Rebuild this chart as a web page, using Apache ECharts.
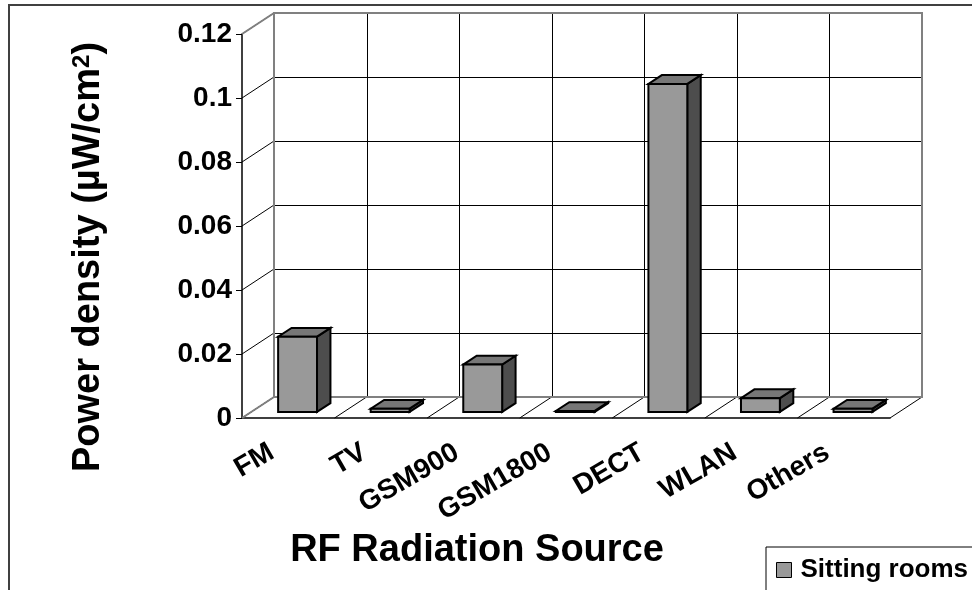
<!DOCTYPE html>
<html><head><meta charset="utf-8">
<script src="https://cdn.jsdelivr.net/npm/echarts@6/dist/echarts.min.js"></script>
<style>html,body{margin:0;padding:0;background:#fff}#c{width:972px;height:590px}</style>
</head><body><div id="c"></div>
<script>
const categories = ['FM', 'TV', 'GSM900', 'GSM1800', 'DECT', 'WLAN', 'Others'];
const sittingRooms = [0.0235, 0.001, 0.0148, 0.0003, 0.1025, 0.0043, 0.001];
const yTicks = [0, 0.02, 0.04, 0.06, 0.08, 0.1, 0.12];
const seriesName = 'Sitting rooms';
const xTitle = 'RF Radiation Source';
const yTitleMain = 'Power density (µW/cm';
const yTitleSup = '2';

const FONT = '"Liberation Sans", Arial, sans-serif';
const DX = 32, DY = -21;      // depth of the 3D box (pixels)
const F0 = 0.29, FD = 0.42;   // bar depth start / bar depth fraction
const BARW = 0.42;            // bar width fraction of band
const cr = v => Math.round(v) + 0.5;

function renderWalls(params, api) {
  const cs = params.coordSys;
  const n = categories.length;
  const x0 = cs.x, x1 = cs.x + cs.width, yB = cs.y + cs.height, yT = cs.y;
  const bw = cs.width / n;
  const ch = [];
  const line = (a, b, c, d, color, w) => ch.push({
    type: 'line', shape: { x1: a, y1: b, x2: c, y2: d },
    style: { stroke: color, lineWidth: w }
  });
  yTicks.forEach(v => {
    const y = api.coord([0, v])[1];
    line(x0 + DX, cr(y + DY), x1 + DX, cr(y + DY), '#000', 1);
    line(x0, y, x0 + DX, y + DY, '#000', 1);
  });
  for (let i = 0; i <= n; i++) {
    const x = x0 + i * bw;
    line(cr(x + DX), yT + DY, cr(x + DX), yB + DY, '#000', 1);
    line(x, yB, x + DX, yB + DY, '#000', 1);
  }
  ch.push({ type: 'rect', shape: { x: x0 + DX, y: yT + DY, width: cs.width, height: cs.height },
    style: { fill: null, stroke: '#808080', lineWidth: 2 } });
  line(x0, yT, x0 + DX, yT + DY, '#808080', 2);
  line(x0, yB, x0 + DX, yB + DY, '#808080', 2);
  return { type: 'group', children: ch };
}

function renderBar(params, api) {
  const idx = api.value(0);
  const base = api.coord([idx, 0]);
  const top = api.coord([idx, api.value(1)]);
  const bw = api.size([1, 0])[0];
  const w = bw * BARW;
  const ox = DX * F0, oy = DY * F0, dx = DX * FD, dy = DY * FD;
  const xl = base[0] - w / 2 + ox, xr = xl + w;
  const yb = base[1] + oy, yt = top[1] + oy;
  const st = { stroke: '#000', lineWidth: 2, lineJoin: 'miter' };
  return {
    type: 'group',
    children: [
      { type: 'polygon', shape: { points: [[xr, yt], [xr + dx, yt + dy], [xr + dx, yb + dy], [xr, yb]] },
        style: Object.assign({ fill: '#4d4d4d' }, st) },
      { type: 'polygon', shape: { points: [[xl, yt], [xr, yt], [xr + dx, yt + dy], [xl + dx, yt + dy]] },
        style: Object.assign({ fill: '#777777' }, st) },
      { type: 'rect', shape: { x: xl, y: yt, width: w, height: yb - yt },
        style: Object.assign({ fill: '#999999' }, st) }
    ]
  };
}

const chart = echarts.init(document.getElementById('c'), null, { renderer: 'canvas' });
chart.setOption({
  animation: false,
  backgroundColor: '#fff',
  grid: { left: 242, right: 82, top: 34, bottom: 172 },
  xAxis: {
    type: 'category', data: categories,
    axisLine: { lineStyle: { color: '#000', width: 1.5 } },
    axisTick: { length: 6, lineStyle: { color: '#000' } },
    axisLabel: { interval: 0, rotate: 30, margin: 23, padding: [0, 19, 0, 0],
      fontSize: 28, fontWeight: 'bold', color: '#000', fontFamily: FONT },
    splitLine: { show: false }
  },
  yAxis: {
    type: 'value', min: 0, max: 0.12, interval: 0.02,
    axisLine: { show: true, lineStyle: { color: '#000', width: 1.5 } },
    axisTick: { show: true, length: 6, lineStyle: { color: '#000' } },
    axisLabel: { margin: 10, fontSize: 28, fontWeight: 'bold', color: '#000', fontFamily: FONT,
      formatter: v => String(parseFloat(v.toFixed(4))) },
    splitLine: { show: false }
  },
  legend: {
    left: 766, top: 547,
    padding: [10, 40, 10, 10],
    borderColor: '#000', borderWidth: 1, backgroundColor: '#fff',
    itemWidth: 15, itemHeight: 15,
    textStyle: { fontSize: 26, fontWeight: 'bold', color: '#000', fontFamily: FONT, padding: [0, 0, 0, 4] },
    data: [{ name: seriesName, icon: 'rect', itemStyle: { color: '#999999', borderColor: '#000', borderWidth: 1 } }]
  },
  graphic: [
    { type: 'rect', shape: { x: 9, y: 5, width: 1000, height: 1000 },
      style: { fill: null, stroke: '#404040', lineWidth: 2 }, z: 100 },
    { type: 'text', x: 477, y: 551,
      style: { text: xTitle, font: 'bold 38px ' + FONT, fill: '#000', textAlign: 'center', textVerticalAlign: 'middle' } },
    { type: 'text', x: 89, y: 257, rotation: Math.PI / 2,
      style: {
        text: '{a|' + yTitleMain + '}{s|' + yTitleSup + '}{a|)}',
        textAlign: 'center', textVerticalAlign: 'middle', fill: '#000',
        rich: {
          a: { fontSize: 38, fontWeight: 'bold', fontFamily: FONT, fill: '#000' },
          s: { fontSize: 24, fontWeight: 'bold', fontFamily: FONT, fill: '#000', verticalAlign: 'top' }
        }
      } }
  ],
  series: [
    { type: 'custom', name: '_walls', renderItem: renderWalls, data: [[0, 0]], z: 1, silent: true },
    { type: 'custom', name: seriesName, renderItem: renderBar, z: 3,
      itemStyle: { color: '#999999' },
      data: sittingRooms.map((v, i) => [i, v]) }
  ]
});
</script>
</body></html>
